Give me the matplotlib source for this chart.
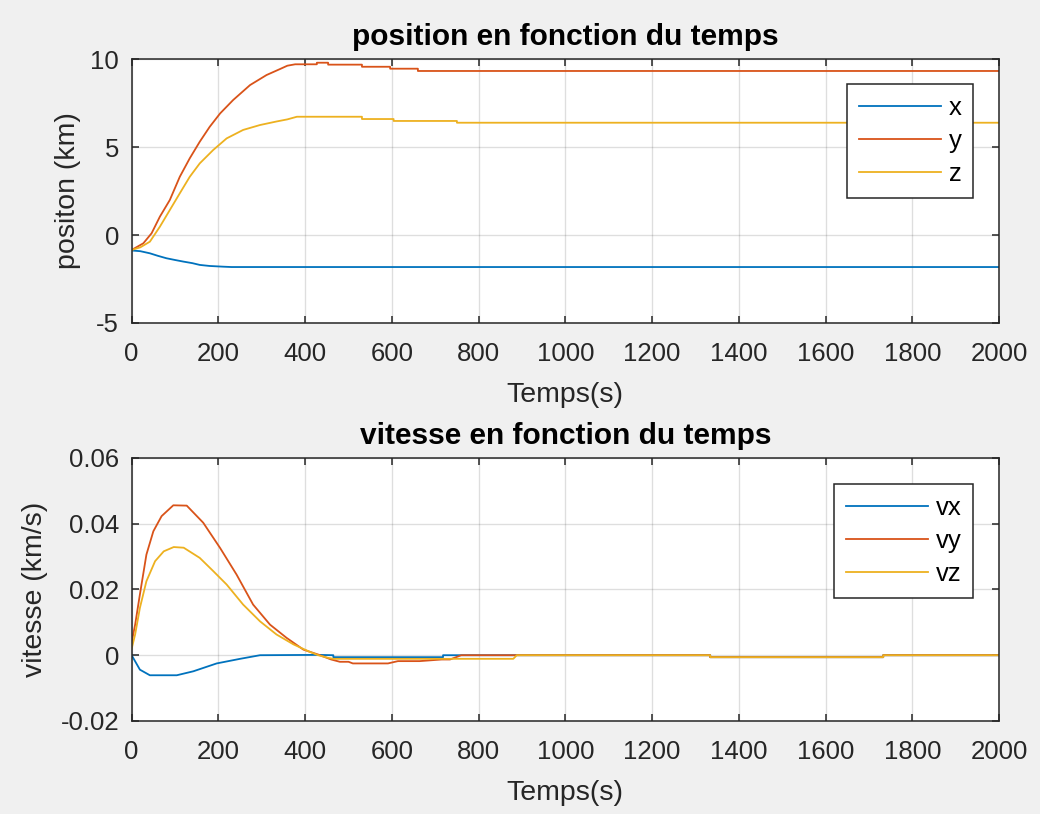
import matplotlib
matplotlib.use("Agg")
import matplotlib.pyplot as plt

# ---------------- data ----------------
t_x = [0, 20, 42, 60, 80, 100, 119, 140, 157, 180, 211, 230, 2000]
pos_x = [-0.88, -0.92, -1.04, -1.18, -1.32, -1.42, -1.51, -1.60, -1.70, -1.76, -1.80, -1.82, -1.82]

t_y = [0, 27, 46, 65, 88, 111, 134, 157, 180, 204, 234, 273, 311, 342, 359, 377,
       427, 427, 453, 453, 531, 531, 596, 596, 660, 660, 2000]
pos_y = [-0.85, -0.47, 0.10, 1.04, 1.99, 3.31, 4.36, 5.30, 6.15, 6.91, 7.67, 8.52, 9.09, 9.43, 9.62, 9.70,
         9.70, 9.79, 9.79, 9.68, 9.68, 9.56, 9.56, 9.45, 9.45, 9.32, 9.32]

t_z = [0, 20, 42, 65, 88, 111, 134, 157, 188, 219, 257, 296, 334, 359, 381,
       531, 531, 604, 604, 750, 750, 2000]
pos_z = [-0.85, -0.70, -0.38, 0.47, 1.42, 2.37, 3.31, 4.07, 4.83, 5.49, 5.97, 6.25, 6.45, 6.57, 6.72,
         6.72, 6.59, 6.59, 6.48, 6.48, 6.38, 6.38]

t_vx = [0, 19, 42, 104, 142, 196, 250, 296, 430, 465, 465, 718, 718, 1334, 1334, 1733, 1733, 2000]
vel_x = [0, -0.0044, -0.0061, -0.0061, -0.0049, -0.0025, -0.0011, 0, 0.0001, 0, -0.0006, -0.0006,
         0, 0, -0.0006, -0.0006, 0, 0]

t_vy = [0, 8, 19, 34, 50, 69, 96, 127, 165, 204, 242, 280, 319, 357, 396, 430, 460, 480, 500,
        510, 591, 614, 664, 715, 734, 760, 1334, 1334, 1733, 1733, 2000]
vel_y = [0.004, 0.0093, 0.0185, 0.0306, 0.0377, 0.0423, 0.0456, 0.0455, 0.0403, 0.0326, 0.0245,
         0.0154, 0.0093, 0.0053, 0.0017, 0.0002, -0.0013, -0.0020, -0.0020, -0.0025, -0.0025,
         -0.0018, -0.0018, -0.0013, -0.0013, 0, 0, -0.0006, -0.0006, 0, 0]

t_vz = [0, 8, 19, 34, 54, 74, 97, 120, 157, 188, 219, 257, 296, 334, 373, 411, 430, 453, 465,
        880, 888, 1334, 1334, 1733, 1733, 2000]
vel_z = [0.002, 0.0063, 0.0144, 0.0225, 0.0286, 0.0316, 0.0329, 0.0327, 0.0296, 0.0256, 0.0215,
         0.0154, 0.0103, 0.0063, 0.0033, 0.0010, 0, -0.0008, -0.0011, -0.0011, 0, 0, -0.0006,
         -0.0006, 0, 0]

pos_labels = ["x", "y", "z"]
vel_labels = ["vx", "vy", "vz"]
x_ticks = [0, 200, 400, 600, 800, 1000, 1200, 1400, 1600, 1800, 2000]
pos_ticks = [-5, 0, 5, 10]
vel_ticks = [-0.02, 0, 0.02, 0.04, 0.06]
vel_ticklabels = ["-0.02", "0", "0.02", "0.04", "0.06"]

# ---------------- style ----------------
plt.rcParams['font.family'] = ['Liberation Sans', 'DejaVu Sans']
plt.rcParams['axes.unicode_minus'] = False
colors = ['#0072BD', '#D95319', '#EDB120']
dark = '#262626'
tick_fs = 18.5
label_fs = 20.5
title_fs = 21.5

fig = plt.figure(figsize=(10.4, 8.14), dpi=100, facecolor='#f0f0f0')

ax1 = fig.add_axes([0.1266, 0.6032, 0.834, 0.3243])
ax2 = fig.add_axes([0.1266, 0.1143, 0.834, 0.3231])


def style(ax):
    ax.set_facecolor('white')
    for s in ax.spines.values():
        s.set_color(dark)
        s.set_linewidth(1.1)
    ax.tick_params(direction='in', length=5, width=1.1, color=dark, labelcolor=dark,
                   labelsize=tick_fs, top=True, right=True)
    ax.tick_params(axis='x', pad=14)
    ax.tick_params(axis='y', pad=9)
    ax.grid(True, color=dark, alpha=0.15, linewidth=1.0)
    ax.set_axisbelow(True)
    ax.set_xlim(0, 2000)
    ax.set_xticks(x_ticks)


style(ax1)
ax1.plot(t_x, pos_x, color=colors[0], lw=1.3, label=pos_labels[0])
ax1.plot(t_y, pos_y, color=colors[1], lw=1.3, label=pos_labels[1])
ax1.plot(t_z, pos_z, color=colors[2], lw=1.3, label=pos_labels[2])
ax1.set_ylim(-5, 10)
ax1.set_yticks(pos_ticks)
ax1.set_title("position en fonction du temps", fontsize=title_fs, fontweight='bold',
              color='black', pad=10)
ax1.set_xlabel("Temps(s)", fontsize=label_fs, color=dark, labelpad=11)
ax1.set_ylabel("positon (km)", fontsize=label_fs, color=dark, labelpad=7)
leg1 = ax1.legend(loc='upper right', bbox_to_anchor=(0.970, 0.905), borderaxespad=0,
                  fontsize=tick_fs, handlelength=3.2, handletextpad=0.3, labelspacing=0.36,
                  borderpad=0.45, fancybox=False, framealpha=1, edgecolor=dark)
leg1.get_frame().set_linewidth(1.1)

style(ax2)
ax2.plot(t_vx, vel_x, color=colors[0], lw=1.3, label=vel_labels[0])
ax2.plot(t_vy, vel_y, color=colors[1], lw=1.3, label=vel_labels[1])
ax2.plot(t_vz, vel_z, color=colors[2], lw=1.3, label=vel_labels[2])
ax2.set_ylim(-0.02, 0.06)
ax2.set_yticks(vel_ticks)
ax2.set_yticklabels(vel_ticklabels)
ax2.set_title("vitesse en fonction du temps", fontsize=title_fs, fontweight='bold',
              color='black', pad=10)
ax2.set_xlabel("Temps(s)", fontsize=label_fs, color=dark, labelpad=11)
ax2.set_ylabel("vitesse (km/s)", fontsize=label_fs, color=dark, labelpad=9)
leg2 = ax2.legend(loc='upper right', bbox_to_anchor=(0.970, 0.901), borderaxespad=0,
                  fontsize=tick_fs, handlelength=3.2, handletextpad=0.3, labelspacing=0.36,
                  borderpad=0.45, fancybox=False, framealpha=1, edgecolor=dark)
leg2.get_frame().set_linewidth(1.1)

fig.savefig("out.png", dpi=100, facecolor=fig.get_facecolor())
